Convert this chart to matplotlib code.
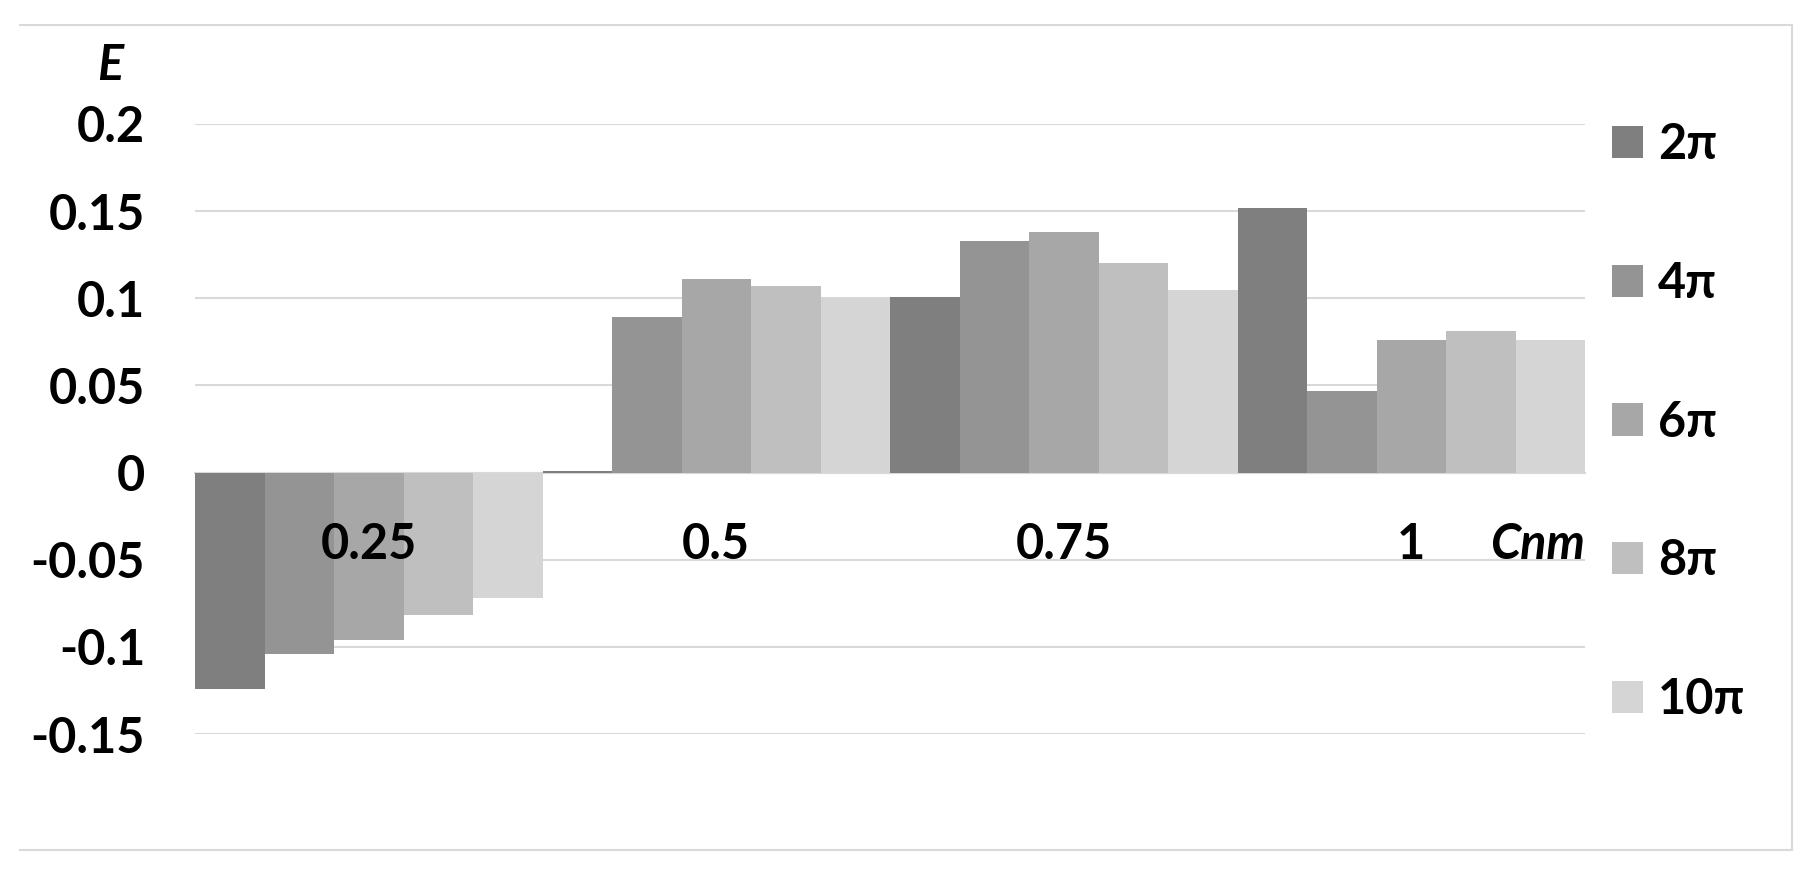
import numpy as np
import matplotlib
matplotlib.use('Agg')
import matplotlib.pyplot as plt
from matplotlib.lines import Line2D

plt.rcParams['font.family'] = ['Lato', 'DejaVu Sans']
plt.rcParams['font.weight'] = 'bold'

# 数据
categories = ['0.25', '0.5', '0.75', '1']
series_names = ['2π', '4π', '6π', '8π', '10π']
values = {
    '2π':  [-0.124, 0.001, 0.101, 0.152],
    '4π':  [-0.104, 0.089, 0.133, 0.047],
    '6π':  [-0.096, 0.111, 0.138, 0.076],
    '8π':  [-0.082, 0.107, 0.120, 0.081],
    '10π': [-0.072, 0.100, 0.105, 0.076],
}
y_ticks = [-0.15, -0.1, -0.05, 0, 0.05, 0.1, 0.15, 0.2]
y_tick_labels = ['-0.15', '-0.1', '-0.05', '0', '0.05', '0.1', '0.15', '0.2']

colors = ['#7f7f7f', '#949494', '#a7a7a7', '#bfbfbf', '#d5d5d5']
grid_color = '#d9d9d9'
fs = 35

W, H = 1818, 881
fig = plt.figure(figsize=(W / 100, H / 100), dpi=100, facecolor='white')
ax = fig.add_axes([195 / W, 1 - 734 / H, (1585 - 195) / W, (734 - 124) / H])

x = np.arange(len(categories))
bw = 0.2
for j, name in enumerate(series_names):
    ax.bar(x + (j - 2) * bw, values[name], width=bw, color=colors[j],
           label=name, linewidth=0, zorder=3)

ax.set_xlim(-0.5, len(categories) - 0.5)
ax.set_ylim(-0.15, 0.2)
ax.set_yticks(y_ticks)
ax.set_yticklabels(y_tick_labels, fontsize=fs, fontweight='bold')
ax.yaxis.grid(True, color=grid_color, linewidth=1.5, zorder=0)
ax.set_axisbelow(True)

for s in ['top', 'right', 'left']:
    ax.spines[s].set_visible(False)
ax.spines['bottom'].set_position(('data', 0))
ax.spines['bottom'].set_color(grid_color)
ax.spines['bottom'].set_linewidth(1.5)
ax.spines['bottom'].set_zorder(1)

# 类别标签画在柱子上面
ax.set_xticks(x)
ax.set_xticklabels([])
for xi, cat in zip(x, categories):
    ax.text(xi, -0.0413, cat, fontsize=fs, fontweight='bold',
            ha='center', va='center', zorder=6)
ax.tick_params(axis='both', length=0)
ax.tick_params(axis='y', pad=36)

# 坐标轴标题
fig.text(110 / W, 1 - 66 / H, 'E', fontsize=fs, fontweight='bold',
         style='italic', ha='center', va='center')
ax.text(1.0, -0.0413, 'Cnm', transform=ax.get_yaxis_transform(),
        fontsize=fs, fontweight='bold', style='italic', ha='right',
        va='center', zorder=6)

leg = ax.legend(loc='upper left', bbox_to_anchor=(1612 / W, 1 - 122 / H),
                bbox_transform=fig.transFigure, frameon=False, fontsize=fs,
                handlelength=0.64, handleheight=0.64, handletextpad=0.3,
                labelspacing=1.93, borderpad=0, borderaxespad=0)
for t in leg.get_texts():
    t.set_fontweight('bold')

# 外框
fig.add_artist(Line2D([20 / W, 1792 / W], [1 - 25 / H, 1 - 25 / H],
                      color=grid_color, linewidth=1.5, transform=fig.transFigure))
fig.add_artist(Line2D([1792 / W, 1792 / W], [1 - 25 / H, 1 - 850 / H],
                      color=grid_color, linewidth=1.5, transform=fig.transFigure))
fig.add_artist(Line2D([20 / W, 1792 / W], [1 - 850 / H, 1 - 850 / H],
                      color=grid_color, linewidth=1.5, transform=fig.transFigure))

fig.savefig('out.png', dpi=100, facecolor='white')
